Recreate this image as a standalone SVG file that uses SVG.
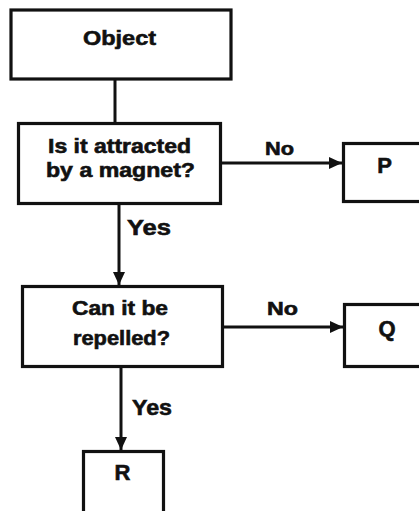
<svg xmlns="http://www.w3.org/2000/svg" width="419" height="511" viewBox="0 0 419 511">
  <style>
    .box { fill: #fff; stroke: #111; stroke-width: 3.2; }
    .edge { fill: none; stroke: #111; stroke-width: 3; }
    .t { font-family: "Liberation Sans", Arial, sans-serif; font-weight: bold; fill: #111; text-anchor: middle; stroke: #111; stroke-width: 0.6; }
    .l { font-family: "Liberation Sans", Arial, sans-serif; font-weight: bold; fill: #111; stroke: #111; stroke-width: 0.6; }
  </style>
  <defs>
    <marker id="arr" markerUnits="userSpaceOnUse" markerWidth="14" markerHeight="12" refX="13" refY="6" orient="auto">
      <path d="M0,0 L13,6 L0,12 Z" fill="#111"/>
    </marker>
  </defs>
  <rect width="419" height="511" fill="#fff"/>

  <g id="connectors">
    <line class="edge" x1="115" y1="80" x2="115" y2="122"/>
    <line class="edge" x1="222" y1="163" x2="342" y2="163" marker-end="url(#arr)"/>
    <line class="edge" x1="119" y1="205" x2="119" y2="285" marker-end="url(#arr)"/>
    <line class="edge" x1="224" y1="327" x2="343" y2="327" marker-end="url(#arr)"/>
    <line class="edge" x1="121" y1="368" x2="121" y2="450" marker-end="url(#arr)"/>
    <text class="l" x="265" y="155" font-size="19" textLength="29" lengthAdjust="spacingAndGlyphs">No</text>
    <text class="l" x="127" y="235" font-size="22" textLength="44" lengthAdjust="spacingAndGlyphs">Yes</text>
    <text class="l" x="267" y="315" font-size="19" textLength="31" lengthAdjust="spacingAndGlyphs">No</text>
    <text class="l" x="132" y="415" font-size="22" textLength="40" lengthAdjust="spacingAndGlyphs">Yes</text>
  </g>

  <g id="object">
    <rect class="box" x="11" y="10" width="220" height="69"/>
    <text class="t" x="119.5" y="45" font-size="21" textLength="73" lengthAdjust="spacingAndGlyphs">Object</text>
  </g>

  <g id="attracted">
    <rect class="box" x="18.5" y="123.5" width="202" height="80"/>
    <text class="t" x="119.5" y="153" font-size="20" textLength="143" lengthAdjust="spacingAndGlyphs">Is it attracted</text>
    <text class="t" x="120.5" y="177" font-size="20" textLength="149" lengthAdjust="spacingAndGlyphs">by a magnet?</text>
  </g>

  <g id="P">
    <rect class="box" x="343.5" y="143.5" width="100" height="58"/>
    <text class="t" x="384.5" y="173" font-size="22">P</text>
  </g>

  <g id="repelled">
    <rect class="box" x="22.5" y="286.5" width="200" height="80"/>
    <text class="t" x="120" y="315" font-size="20" textLength="96" lengthAdjust="spacingAndGlyphs">Can it be</text>
    <text class="t" x="121.5" y="345" font-size="20" textLength="97" lengthAdjust="spacingAndGlyphs">repelled?</text>
  </g>

  <g id="Q">
    <rect class="box" x="344.5" y="304.5" width="100" height="62"/>
    <text class="t" x="387" y="336" font-size="22">Q</text>
  </g>

  <g id="R">
    <rect class="box" x="83.5" y="451.5" width="80" height="80"/>
    <text class="t" x="122.5" y="480" font-size="22">R</text>
  </g>
</svg>
